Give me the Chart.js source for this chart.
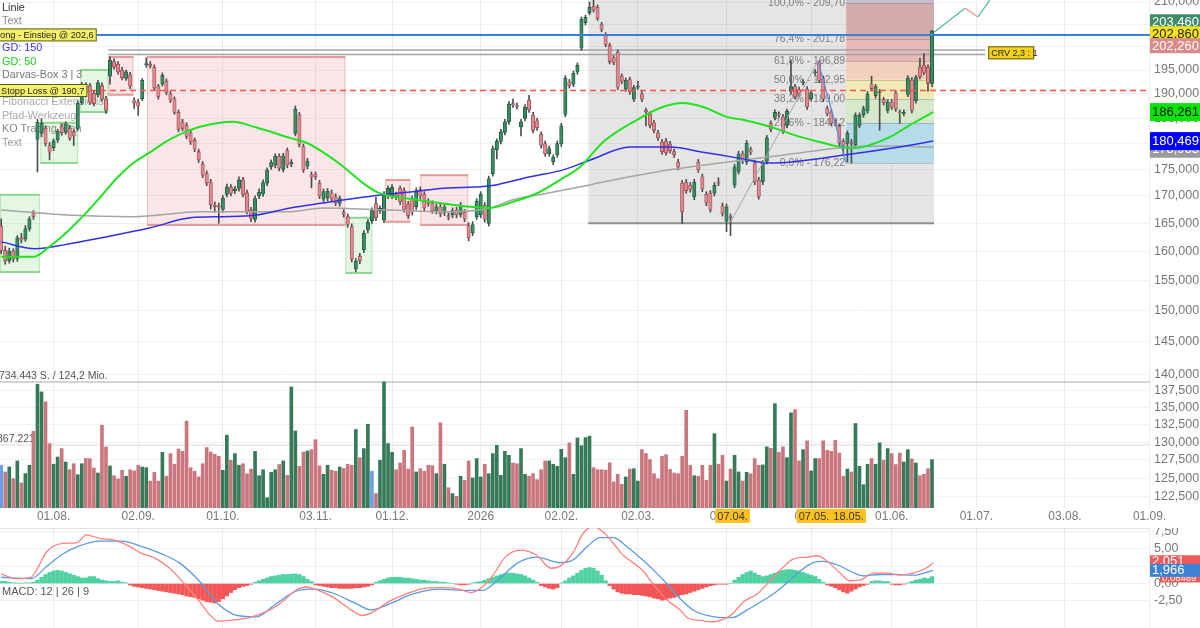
<!DOCTYPE html>
<html>
<head>
<meta charset="utf-8">
<script src="https://cdn.jsdelivr.net/npm/chart.js@4.4.1/dist/chart.umd.min.js"></script>
<style>
  html, body { margin: 0; padding: 0; background: #fff; overflow: hidden; }
  #wrap { position: relative; width: 1200px; height: 628px; }
  #main { position: absolute; left: 0; top: 0; width: 1200px; height: 528px; }
  #macd { position: absolute; left: 0; top: 528px; width: 1200px; height: 100px; }
</style>
</head>
<body>
<div id="wrap">
  <div id="main"><canvas id="priceChart"></canvas></div>
  <div id="macd"><canvas id="macdChart"></canvas></div>
</div>
<script>
// ═══ daily candles, index 0 = 15.07.2025 ═══
const opens = [
  164.5,160.2,158.4,160.1,158.8,162.4,162.2,164.0,166.8,180.8, 182.0,183.0,179.6,179.2,180.7,183.4,182.2,183.0,182.3,183.0,
  188.2,191.6,191.7,190.1,189.8,191.7,189.0,193.7,196.8,196.2, 195.0,193.2,194.0,188.6,188.3,189.0,196.1,196.2,195.6,191.5,
  192.0,192.6,190.0,189.0,186.2,184.3,183.6,182.1,180.6,178.4, 176.0,174.2,172.6,168.3,168.2,167.5,170.3,171.6,171.0,171.4,
  173.0,170.6,167.4,165.7,170.0,170.4,172.4,175.5,175.8,177.5, 175.0,178.6,176.0,182.0,185.7,179.4,175.6,174.0,174.0,172.4,
  169.4,169.6,170.6,169.9,168.6,167.0,166.2,164.4,157.0,159.2, 160.3,163.8,165.5,168.6,167.3,165.6,170.0,170.0,170.2,171.4,
  171.0,168.5,169.5,168.0,171.2,170.3,169.0,168.6,167.2,168.0, 166.9,166.4,166.5,167.4,166.6,167.0,164.6,163.3,166.2,166.5,
  168.3,165.0,174.2,178.8,180.4,182.2,184.3,188.0,187.6,183.3, 185.0,188.7,185.7,184.5,181.8,180.0,178.0,176.4,177.8,179.9,
  185.8,192.5,192.0,194.6,199.7,205.3,207.6,209.0,208.8,204.9, 202.6,200.3,197.6,198.8,193.7,191.0,193.0,188.9,191.4,190.0,
  186.6,185.8,184.1,182.1,180.3,180.5,179.9,178.4,176.4,172.4, 172.6,172.0,169.8,176.4,173.6,170.3,170.5,170.5,172.6,168.2,
  165.4,166.2,172.0,174.6,178.0,176.4,178.8,176.2,173.0,172.6, 176.5,184.0,185.2,185.8,185.3,183.6,190.5,191.5,190.9,192.3,
  191.0,189.0,194.4,196.7,193.2,187.0,186.3,184.2,183.4,180.4, 180.0,180.3,179.7,183.6,185.7,186.5,192.1,189.6,190.2,188.8,
  186.6,188.3,190.2,186.2,186.0,189.9,192.9,188.6,195.6,196.0, 195.6,192.2
];
const highs = [
  165.8,160.9,160.6,160.5,162.8,163.2,164.6,166.2,167.3,184.8, 184.9,183.5,180.2,180.9,182.8,183.9,184.3,183.6,182.7,188.6,
  192.4,192.3,192.2,190.6,192.8,192.3,189.5,197.8,197.4,196.8, 195.6,195.0,194.5,189.2,188.9,193.2,197.6,196.8,196.1,192.0,
  194.4,193.1,190.5,189.4,186.7,184.8,184.1,182.6,181.1,178.9, 176.5,174.7,173.1,168.9,168.7,170.1,172.2,172.1,171.8,173.6,
  173.5,171.1,167.9,170.0,171.3,173.0,175.3,176.8,178.0,178.0, 178.1,179.1,176.9,187.5,186.2,179.9,177.1,174.5,174.5,172.9,
  171.3,171.4,171.1,170.4,170.0,167.5,166.7,164.9,158.8,159.7, 163.7,165.7,167.8,169.8,168.2,170.8,171.9,172.1,170.7,171.9,
  171.5,169.0,170.0,171.5,171.7,170.8,169.5,169.1,168.5,168.5, 168.5,166.9,167.8,167.9,168.8,167.5,165.1,165.3,169.5,170.8,
  168.8,173.7,179.5,180.9,182.8,184.8,188.4,188.9,188.1,184.8, 187.8,189.7,186.2,185.0,182.3,180.5,179.5,177.8,180.5,184.0,
  193.8,193.0,194.8,196.5,206.6,207.0,210.0,210.5,209.3,205.4, 203.1,200.8,198.1,199.3,194.2,193.3,193.5,191.8,192.6,190.5,
  187.1,186.3,184.6,182.6,180.8,181.0,180.4,178.9,176.9,172.9, 173.1,172.5,173.1,176.9,174.1,170.8,171.0,172.5,173.4,168.7,
  168.5,166.7,176.0,178.5,178.5,180.6,179.3,176.7,173.5,176.7, 181.6,184.5,186.7,186.3,185.8,186.9,197.0,192.0,191.4,193.0,
  191.5,190.7,195.1,197.0,193.7,187.5,186.8,184.7,183.9,180.9, 182.5,180.8,186.1,186.1,187.5,190.5,193.7,192.0,190.9,189.3,
  188.8,188.8,190.7,186.7,186.7,193.8,193.4,193.9,197.5,198.5, 196.1,203.6
];
const lows = [
  159.6,157.8,158.0,158.2,158.3,161.5,161.8,163.6,165.7,174.5, 181.3,179.5,176.8,178.6,180.2,181.6,181.8,180.6,179.6,182.6,
  187.8,189.8,187.9,187.5,189.3,188.5,186.0,192.0,195.2,194.1, 192.9,192.8,191.1,187.0,185.6,188.6,195.6,195.4,190.8,188.9,
  191.6,189.8,188.2,185.8,182.3,182.5,180.9,179.8,178.4,176.3, 173.4,171.9,167.6,167.0,165.0,167.0,169.8,170.0,170.4,170.9,
  169.8,166.7,165.3,165.2,169.5,169.9,171.9,175.0,175.3,174.7, 174.5,175.3,175.5,181.5,179.3,174.4,175.1,171.5,173.1,169.5,
  168.9,169.1,168.9,168.2,168.1,166.1,164.3,158.2,156.5,157.9, 159.8,163.3,165.0,165.5,166.8,165.1,169.5,169.5,169.3,168.4,
  167.0,165.9,166.5,167.5,169.5,167.3,168.1,166.8,166.7,166.2, 166.4,165.6,166.0,166.0,166.1,165.3,161.9,162.8,165.7,166.0,
  165.2,164.5,173.7,177.0,179.9,181.7,183.8,187.2,186.9,181.5, 184.5,186.2,182.1,182.6,179.1,177.5,177.5,175.9,177.3,179.4,
  185.3,191.2,191.5,194.1,199.2,204.8,207.1,207.7,205.8,203.3, 200.0,196.3,196.1,190.9,192.1,190.5,189.9,188.4,190.9,188.4,
  183.5,183.1,182.1,180.6,177.9,177.7,178.1,177.3,174.9,165.0, 170.5,170.7,169.3,174.4,170.8,168.2,167.0,170.0,171.9,166.3,
  163.5,162.8,171.5,174.1,176.1,175.9,177.8,172.1,169.4,172.1, 176.0,182.3,184.7,185.2,182.0,183.1,190.0,188.9,189.5,191.8,
  186.8,188.5,193.9,192.3,188.4,185.5,183.5,183.5,179.6,177.6, 176.4,176.2,179.2,183.1,185.2,186.0,190.6,189.1,182.6,187.7,
  186.1,186.8,186.4,184.0,185.5,189.4,186.1,188.1,193.1,194.0, 190.5,191.5
];
const closes = [
  160.2,158.4,160.1,158.7,162.4,162.0,164.0,165.8,166.2,184.2, 184.0,180.0,178.3,180.5,182.4,182.1,183.9,181.0,181.5,188.1,
  191.8,190.1,188.3,188.0,192.3,188.9,186.6,197.1,195.6,194.6, 193.4,194.6,191.6,188.1,187.5,192.8,196.4,195.9,191.2,189.4,
  193.9,190.2,188.7,186.2,182.8,183.0,181.4,180.3,178.9,176.8, 173.9,172.4,168.4,168.0,168.0,169.6,171.7,170.5,171.3,173.0,
  170.3,167.2,165.9,169.5,170.7,172.5,174.8,176.3,177.5,175.2, 177.6,175.8,176.4,186.8,179.8,174.9,176.6,173.5,173.6,170.0,
  170.8,170.9,169.4,168.7,169.5,166.6,164.8,158.7,158.3,158.4, 163.2,165.2,167.3,166.0,167.7,170.3,171.4,171.6,169.8,168.9,
  167.5,166.4,167.0,171.0,170.0,167.8,168.6,167.3,168.0,166.7, 168.0,166.1,167.3,166.5,168.3,165.8,162.4,164.8,169.0,170.3,
  165.7,173.2,179.0,180.4,182.3,184.3,187.9,187.7,187.4,184.3, 187.3,186.7,182.6,183.1,179.6,178.0,179.0,177.3,180.0,183.5,
  193.3,191.7,194.3,196.0,206.1,206.5,208.8,208.2,206.3,203.8, 200.5,196.8,196.6,191.4,192.6,192.8,190.4,191.3,191.6,188.9,
  186.3,183.6,182.6,181.1,178.4,178.2,178.6,177.8,175.4,167.1, 171.0,171.2,172.6,174.9,171.3,168.7,167.5,172.0,172.4,166.8,
  168.0,166.0,175.5,178.0,176.6,180.1,178.3,172.6,169.9,176.2, 181.1,182.8,186.2,185.7,182.5,186.4,191.5,189.4,190.0,192.5,
  187.3,190.2,194.6,192.8,188.9,186.0,184.0,184.0,180.1,179.5, 182.0,180.0,185.6,185.6,187.0,190.0,191.1,191.5,190.4,188.2,
  188.3,187.3,186.9,186.1,186.2,193.3,186.6,193.4,193.6,194.5, 192.2,203.4
];
// volume in thousand shares
const volumes = [
  249,210,239,171,274,146,200,249,447,721, 676,618,375,255,297,346,268,223,258,194,
  258,288,288,233,204,482,356,245,188,169, 220,185,223,216,249,239,235,157,208,157,
  324,185,317,255,344,330,507,235,214,181, 258,352,326,313,301,220,424,278,317,249,
  258,200,227,330,188,223,60,208,223,253, 274,190,705,449,243,326,332,340,398,245,
  196,249,220,214,239,230,255,249,457,293, 346,488,214,84,278,735,375,324,223,262,
  336,227,472,210,229,214,249,247,200,496, 255,118,84,68,185,161,274,175,288,181,
  255,200,317,365,190,330,307,262,258,346, 196,185,200,165,223,274,274,255,243,342,
  293,379,196,408,363,410,418,235,223,
  223,220,264,152,196,138,181,227,229,157, 340,317,282,200,171,301,311,225,204,200,
  301,569,249,188,185,249,161,249,433,255, 307,157,227,307,210,157,208,200,288,249,
  251,356,348,608,324,356,293,554,573,274, 340,391,216,288,288,391,336,330,394,320,
  185,227,210,492,243,136,255,288,255,379, 278,346,317,253,320,268,340,286,262,188,
  196,229,282
];
const volBlue = [0, 92];

// moving averages, read at sample days
const ma50Idx = [0,8,12.2,16.4,20.3,24.6,28.8,32.8,37,41.2,45.2,49.4,57.6,63.5,71.7,75.9,81.6,84.9,89.8,93.3,96.5,102.2,110.7,116.4,121.3,127,133,138.7,143.7,149.4,157.8,163.5,169.2,174.2,180.1,184.1,190.8,198.3,203.2,208.2,211.9,215.6,220.6,225.6,231.3];
const ma50Val = [159.1,159.1,161.0,163.5,166.3,169.8,173.4,176.2,178.3,180.5,182.1,183.3,184.3,183.1,181.1,180.1,177.4,175.5,172.4,170.7,170.0,169.4,168.5,168.0,167.8,168.9,170.5,173.0,175.5,180.3,184.7,187.1,188.1,187.3,185.3,184.7,183.3,181.3,180.3,179.3,179.1,179.7,181.3,183.7,186.26];
const ma150Idx = [0,8.4,16.4,24.6,37,46.9,55.1,63.5,71.7,79.9,88.3,94.8,102.2,110.7,118.9,123.1,131.3,139.5,146.2,156.1,166,174.2,182.6,190.8,209.7,221.3,231.3];
const ma150Val = [161.7,160.5,161.3,162.4,164.2,166.0,166.2,166.5,167.8,168.7,169.6,170.2,170.8,171.5,171.7,172.1,173.6,174.9,176.8,179.3,179.3,178.3,177.2,176.2,177.8,179.1,180.47];
const ma200Idx = [0,16.4,32.8,49.4,71.7,79.9,96.5,110.7,121.3,127,135.5,143.7,149.4,166,178.4,190.8,203.2,210.7,221.3,231.3];
const ma200Val = [167.4,166.5,166.2,167.1,167.1,167.8,167.4,167.1,167.8,169.3,170.5,171.7,172.6,174.9,176.2,177.4,178.7,179.3,179.5,179.3];

// MACD 12 | 26 | 9
const macdIdx = [0,3.5,7.4,9.2,11.2,14.9,18.9,21.1,24.4,28.3,32,35,37.7,41.4,45.4,49.1,51.6,53.8,56.8,61.5,66.3,70,73,75.7,78.7,82.4,87.1,89.6,92.8,96.5,100.5,104.2,108.9,113.6,116.6,119.4,122.3,125.1,128.8,132.8,136.5,138.7,141.9,144.4,146.9,149.4,151.9,154.3,156.8,159.3,161.8,165.3,168.5,170.5,173.4,176.7,180.1,181.6,184.1,187.6,190.8,194,196.5,200,202.5,205,208.2,210.7,213.2,216.4,219.9,223.1,226.3,229.8,231.3];
const macdVal = [1.4,0.7,0.9,2.4,4.5,5.75,5.9,7.0,6.5,6.2,5.3,4.3,3.8,2.4,0,-2.5,-4.4,-5.4,-5.3,-4.9,-3.9,-2.5,-1.0,-0.5,-1.0,-2.0,-3.9,-4.6,-3.9,-2.5,-1.5,-0.8,-0.6,-0.8,-1.3,-0.5,1.4,3.8,4.8,4.1,2.2,2.5,4.4,7.2,8.2,7.4,5.8,4.1,3.0,1.8,-0.1,-2.4,-3.8,-5.0,-5.3,-5.5,-4.9,-4.3,-2.7,-1.5,0.4,2.3,3.5,3.8,4.0,3.2,1.5,0.4,0.5,1.5,1.5,1.2,1.5,2.3,3.0];
const signalIdx = [0,7.4,11.2,14.9,18.9,24.4,30,34,39.7,44.4,49.1,53.8,58.6,63.3,68.2,73.7,77.7,82.4,88.1,91.8,96.5,102.2,108.9,115.6,119.4,123.1,128,132.8,138.7,141.9,145.4,148.6,151.9,155.3,158.6,161.8,165.3,168.5,171.7,175.2,178.4,181.4,185.1,188.3,191.6,195,198.3,201.5,204,207.4,210.7,213.9,218.1,222.3,226.3,231.3];
const signalVal = [0.9,0.7,2.4,4.1,5.3,6.1,6.1,5.5,4.3,2.9,0.4,-2.9,-4.6,-4.8,-2.9,-1.0,-0.8,-1.4,-2.9,-3.8,-2.9,-1.5,-0.8,-1.0,-1.0,0.4,2.9,3.8,3.0,3.4,5.3,6.6,6.6,5.3,3.7,2.0,-0.1,-2.2,-3.8,-4.6,-4.9,-4.9,-3.8,-2.7,-1.5,0.1,1.8,3.0,3.2,2.7,1.8,1.1,1.3,1.3,1.2,1.9];
const histVal = [
  0.3,0.3,0.2,0.1,0.1,0.0,0.1,0.1,0.2,
  0.5,0.9,1.3,1.6,1.8,1.9,1.8,1.6,1.4,1.2,
  1.0,0.8,0.8,1.0,1.0, 0.7,0.5,0.4,0.3,0.3,0.4, 0.2,0.1,
  -0.2,-0.4,-0.5,-0.6,-0.7,-0.8,-0.9,-1.0,-1.1,-1.2,-1.3,-1.4,-1.5,-1.6,-1.8,-1.9,-2.0,-2.2,-2.4,-2.6,-2.7,-2.8,-2.6,-2.2,-1.8,-1.3,-0.9,-0.6,-0.4,-0.3,-0.1,
  0.2,0.4,0.6,0.8,1.0,1.1,1.2,1.3,1.3,1.35,1.4,1.3,1.0,0.6,0.3,
  -0.2,-0.3,-0.4,-0.5,-0.6,-0.6,-0.7,-0.7,-0.7,-0.7,-0.6,-0.6,-0.5,-0.4,-0.2,
  0.2,0.4,0.6,0.8,0.9,0.9,0.9,0.8,0.8,0.7,0.6,0.5,0.5,0.4,0.3,0.3,0.2,0.2,0.1,
  0.0,-0.1,-0.2,-0.2,-0.1,0.1,
  0.2,0.3,0.5,0.7,0.9,1.1,1.3,1.4,1.5,1.5,1.4,1.3,1.1,0.8,0.5,0.2,
  -0.3,-0.5,-0.7,-0.8,-0.6,
  0.1,0.4,0.8,1.1,1.5,1.9,2.2,2.3,2.2,1.8,1.2,0.4,
  -0.3,-0.8,-1.2,-1.4,-1.5,-1.5,-1.6,-1.6,-1.7,-1.8,-1.9,-2.1,-2.2,-2.4,-2.3,-2.1,-2.0,-1.8,-1.6,-1.5,-1.3,-1.1,-0.9,-0.7,-0.5,-0.3,-0.2,-0.1,-0.1,-0.1,0.0,
  0.5,0.9,1.3,1.6,1.8,1.5,1.2,1.0,1.1,1.3,1.5,1.7,1.9,2.0,2.0,1.9,1.8,1.6,1.4,1.2,1.0,0.6,0.2,
  -0.2,-0.4,-0.6,-0.9,-1.2,-1.4,-1.1,-0.8,-0.5,-0.3,-0.1,
  0.3,0.4,0.4,0.3,0.3, -0.1,-0.2,-0.2,-0.1,
  0.1,0.3,0.5,0.6,0.8,0.7,1.0
];

// axes
const tickIdx = [13,34,55,78,97,119,139,158,180,201,221,242,264,285];
const tickLabels = ['01.08.','02.09.','01.10.','03.11.','01.12.','2026','02.02.','02.03.','01.04.','01.05.','01.06.','01.07.','03.08.','01.09.'];
const markIdx = [183,204,211];
const markLabels = ['07.04.','07.05.','18.05.'];
const priceTicks = [122.5,125,127.5,130,132.5,135,137.5,140,145,150,155,160,165,170,175,180,185,190,195,200,205,210];
const macdTicks = [7.5,5,2.5,0,-2.5];

// drawings
const longEntry = 202.6, stopLoss = 190.7;
const crvLines = [199.3, 198.3], crvFrom = 26.6, crvTo = 244.2;
const darvasBoxes = [ // [fromIdx, toIdx, top, bottom, up?]
  [-0.3,9.6,170.2,156.5,1],[9.7,19.1,184.1,176.2,1],[19.6,26.6,195.0,186.3,1],[26.6,32.8,197.8,189.8,0],
  [36.2,85.4,197.8,164.7,0],[85.4,92.1,166.0,156.3,1],[95.3,101.5,173.0,165.3,0],[104,115.9,173.9,164.7,0]
];
const fibBox = [145.7, 231.5, 165.0];
const fibZone = [209.7, 231.5];
const fibLevels = [209.70,201.78,196.89,192.95,189.00,184.12,176.22];
const fibNames = ['100,0% - 209,70','76,4% - 201,78','61,8% - 196,89','50,0% - 192,95','38,2% - 189,00','23,6% - 184,12','0,0% - 176,22'];
const fibUpIdx = [181, 202.7], fibUpVal = [165.2, 196.89];
const fibDownIdx = [202.7, 209.7], fibDownVal = [196.89, 176.22];
const pathIdx = [231.5, 239.2, 242.4, 248], pathVal = [203.2, 208.6, 206.6, 214];
const lastPrices = [203.46, 202.86, 202.26];
const maLast = [178.965, 186.261, 180.469];
const macdLast = [2.051, 1.966, 0.08489];
const volMax = 734.443, volTotal = '124,2 Mio.';
const legendItems = [['Linie','#333'],['Text','#8a8a8a'],['GD: 200','#999'],['GD: 150','#3434f0'],['GD: 50','#17d417'],
  ['Darvas-Box 3 | 3','#777'],['Wertebereich','#999'],['Fibonacci Extensions','#ababab'],['Pfad-Werkzeug','#ababab'],['KO Trading Plan','#888'],['Text','#999']];

const FONT = '"Liberation Sans", Arial, sans-serif';
const fmt = (v, d) => v.toFixed(d).replace('.', ',');
const X_MIN = -0.3, X_MAX = 285.1;
const isUp = closes.map((c, i) => c >= opens[i]);
const pts = (xs, ys) => xs.map((v, k) => ({ x: v, y: ys[k] }));

function lineSet(xs, ys, color, width, order, axis) {
    return { type: 'line', data: pts(xs, ys), borderColor: color, borderWidth: width, pointRadius: 0,
        cubicInterpolationMode: 'monotone', order: order, yAxisID: axis || 'y' };
}

function spread(items, h) {
    for (let it = 0; it < 60; it++) {
        for (let k = 1; k < items.length; k++) {
            const d = items[k].y - items[k - 1].y;
            if (d < h) { const s = (h - d) / 2; items[k].y += s; items[k - 1].y -= s; }
        }
    }
    return items;
}

function tag(ctx, text, yc, bg, fg, size, h, x0) {
    const left = x0 || 1150;
    ctx.fillStyle = bg;
    ctx.fillRect(left, yc - h / 2, 1200 - left, h);
    ctx.fillStyle = fg;
    ctx.font = size + 'px ' + FONT;
    ctx.textAlign = 'left';
    ctx.textBaseline = 'middle';
    ctx.fillText(text, left + 2, yc + 0.5);
}

// keep the plot area flush with the canvas edges
function noPad(s) { s.paddingTop = 0; s.paddingBottom = 0; s.paddingLeft = 0; s.paddingRight = 0; }

const xScaleBase = {
    type: 'linear', min: X_MIN, max: X_MAX, offset: false,
    afterBuildTicks: s => { s.ticks = tickIdx.map(v => ({ value: v })); },
    grid: { color: '#ececec', drawTicks: false, offset: false },
    border: { display: false }
};

const mainDeco = {
    id: 'mainDeco',
    beforeDatasetsDraw(chart) {
        const { ctx, chartArea: a, scales: { x, y, yv } } = chart;
        ctx.save();
        ctx.beginPath(); ctx.rect(a.left, a.top, a.right - a.left, a.bottom - a.top); ctx.clip();

        // fibonacci background
        const fx0 = x.getPixelForValue(fibBox[0]), fx1 = x.getPixelForValue(fibBox[1]);
        const fyb = y.getPixelForValue(fibBox[2]);
        ctx.fillStyle = 'rgba(0,0,0,0.1)';
        ctx.fillRect(fx0, a.top, fx1 - fx0, fyb - a.top);
        ctx.strokeStyle = '#8f8f8f'; ctx.lineWidth = 2;
        ctx.beginPath(); ctx.moveTo(fx0, fyb); ctx.lineTo(fx1, fyb); ctx.stroke();

        const zx0 = x.getPixelForValue(fibZone[0]), zx1 = x.getPixelForValue(fibZone[1]);
        const zoneColors = ['#c8bccd','#d3abab','#e7b8b8','#f1d1bd','#f3ebb5','#d6e9ca','#b8dbe9'];
        let prev = a.top;
        fibLevels.forEach((lv, k) => {
            const yy = y.getPixelForValue(lv);
            ctx.fillStyle = zoneColors[k];
            ctx.fillRect(zx0, prev, zx1 - zx0, yy - prev);
            prev = yy;
        });
        ctx.strokeStyle = 'rgba(0,0,0,0.18)'; ctx.lineWidth = 1;
        fibLevels.forEach(lv => {
            const yy = Math.round(y.getPixelForValue(lv)) + 0.5;
            ctx.beginPath(); ctx.moveTo(zx0, yy); ctx.lineTo(zx1, yy); ctx.stroke();
        });
        ctx.font = '10.5px ' + FONT; ctx.fillStyle = '#7d7d7d';
        ctx.textAlign = 'right'; ctx.textBaseline = 'middle';
        fibLevels.forEach((lv, k) => ctx.fillText(fibNames[k], zx0 - 1, y.getPixelForValue(lv)));

        // darvas boxes
        darvasBoxes.forEach(b => {
            const bx0 = x.getPixelForValue(b[0]), bx1 = x.getPixelForValue(b[1]);
            const by0 = y.getPixelForValue(b[2]), by1 = y.getPixelForValue(b[3]);
            ctx.fillStyle = b[4] ? 'rgba(140,222,140,0.24)' : 'rgba(232,130,130,0.2)';
            ctx.fillRect(bx0, by0, bx1 - bx0, by1 - by0);
            ctx.strokeStyle = b[4] ? 'rgba(120,210,120,0.45)' : 'rgba(225,120,120,0.4)';
            ctx.lineWidth = 1;
            ctx.strokeRect(bx0 + 0.5, by0, bx1 - bx0 - 1, by1 - by0);
            ctx.strokeStyle = b[4] ? '#8fd88f' : '#e39c9c';
            ctx.lineWidth = 2;
            ctx.beginPath(); ctx.moveTo(bx0, by0); ctx.lineTo(bx1, by0); ctx.moveTo(bx0, by1); ctx.lineTo(bx1, by1); ctx.stroke();
        });

        // CRV zone lines
        ctx.strokeStyle = '#a3a3a3'; ctx.lineWidth = 1.5;
        const cx0 = x.getPixelForValue(crvFrom), cx1 = x.getPixelForValue(crvTo);
        crvLines.forEach(p => {
            const yy = y.getPixelForValue(p);
            ctx.beginPath(); ctx.moveTo(cx0, yy); ctx.lineTo(cx1, yy); ctx.stroke();
        });

        // volume levels
        const v1 = yv.getPixelForValue(volMax), v2 = yv.getPixelForValue(volMax / 2);
        ctx.strokeStyle = '#d4d4d4'; ctx.lineWidth = 2;
        ctx.beginPath(); ctx.moveTo(a.left, v1); ctx.lineTo(a.right, v1); ctx.stroke();
        ctx.strokeStyle = '#e6e6e6'; ctx.lineWidth = 1.5;
        ctx.beginPath(); ctx.moveTo(a.left, v2); ctx.lineTo(a.right, v2); ctx.stroke();
        ctx.font = '10.5px ' + FONT; ctx.fillStyle = '#555'; ctx.textAlign = 'left'; ctx.textBaseline = 'alphabetic';
        ctx.fillText(fmt(volMax, 3).replace(',', '.') + ' S. / ' + volTotal, -1, v1 - 3);
        ctx.fillText(fmt(volMax / 2, 3).replace(',', '.'), -3, v2 - 3);

        // legend of the drawing tools
        ctx.font = '10.8px ' + FONT; ctx.textBaseline = 'middle';
        legendItems.forEach((it, k) => { ctx.fillStyle = it[1]; ctx.fillText(it[0], 2, 8 + k * 13.5); });
        ctx.restore();
    },
    afterDatasetsDraw(chart) {
        const { ctx, chartArea: a, scales: { x, y } } = chart;
        ctx.save();
        ctx.beginPath(); ctx.rect(a.left, a.top, a.right - a.left, a.bottom - a.top); ctx.clip();
        const yl = y.getPixelForValue(longEntry);
        ctx.strokeStyle = '#3d7fd6'; ctx.lineWidth = 2;
        ctx.beginPath(); ctx.moveTo(a.left, yl); ctx.lineTo(a.right, yl); ctx.stroke();
        const ys = y.getPixelForValue(stopLoss);
        ctx.strokeStyle = '#ff4f4f'; ctx.lineWidth = 1.5; ctx.setLineDash([6, 4]);
        ctx.beginPath(); ctx.moveTo(a.left, ys); ctx.lineTo(a.right, ys); ctx.stroke();
        ctx.setLineDash([]);

        ctx.font = '9.2px ' + FONT; ctx.textBaseline = 'middle'; ctx.textAlign = 'left';
        const yLabel = (text, x0, yc) => {
            const w = ctx.measureText(text).width + 5;
            ctx.fillStyle = '#f5f06a'; ctx.fillRect(x0, yc - 6.5, w, 13);
            ctx.strokeStyle = '#5a5a20'; ctx.lineWidth = 1; ctx.strokeRect(x0 + 0.5, yc - 6, w - 1, 12);
            ctx.fillStyle = '#222'; ctx.fillText(text, x0 + 2, yc + 0.5);
        };
        yLabel('Long - Einstieg @ ' + fmt(longEntry, 1), -7, yl);
        yLabel('Stopp Loss @ ' + fmt(stopLoss, 1), -1, ys);

        // CRV tag
        const cx = x.getPixelForValue(crvTo);
        const cy = (y.getPixelForValue(crvLines[0]) + y.getPixelForValue(crvLines[1])) / 2;
        ctx.fillStyle = '#f3d21c'; ctx.fillRect(cx + 3, cy - 6, 46, 13);
        ctx.strokeStyle = '#6a5a10'; ctx.strokeRect(cx + 3.5, cy - 5.5, 45, 12);
        ctx.fillStyle = '#222'; ctx.font = '9px ' + FONT;
        ctx.fillText('CRV 2,3 : 1', cx + 6, cy + 1);
        ctx.restore();
    },
    afterDraw(chart) {
        const { ctx, chartArea: a, scales: { x, y } } = chart;
        ctx.save();
        // price tags
        const tops = spread(lastPrices.map((p, k) => ({ y: y.getPixelForValue(p), k: k })), 12);
        const topColors = [['#3e8c68', '#fff'], ['#f4e21a', '#222'], ['#d98a8a', '#fff']];
        tops.forEach(t => tag(ctx, fmt(lastPrices[t.k], 3), t.y, topColors[t.k][0], topColors[t.k][1], 13, 15));
        const maColors = [['#9b9b9b', '#fff'], ['#00e400', '#111'], ['#0000ff', '#fff']];
        maLast.forEach((p, k) => tag(ctx, fmt(p, 3), y.getPixelForValue(p), maColors[k][0], maColors[k][1], 13, 18));

        // highlighted dates on the time axis, neighbours share one box
        ctx.font = '11px ' + FONT; ctx.textBaseline = 'middle'; ctx.textAlign = 'center';
        const ly = a.bottom + 8;
        const marks = markIdx.map((m, k) => {
            const w = ctx.measureText(markLabels[k]).width;
            return { c: x.getPixelForValue(m) - 6, w: w, t: markLabels[k] };
        });
        for (let k = 1; k < marks.length; k++) {
            const gap = marks[k].c - marks[k - 1].c, need = (marks[k].w + marks[k - 1].w) / 2 + 4;
            if (gap < need) { marks[k - 1].c -= (need - gap) / 2; marks[k].c += (need - gap) / 2; }
        }
        let k0 = 0;
        while (k0 < marks.length) {
            let k1 = k0;
            while (k1 + 1 < marks.length && marks[k1 + 1].c - marks[k1].c < 45) k1++;
            const left = marks[k0].c - marks[k0].w / 2 - 2, right = marks[k1].c + marks[k1].w / 2 + 2;
            ctx.fillStyle = '#ffc21a'; ctx.fillRect(left, ly - 7, right - left, 14);
            k0 = k1 + 1;
        }
        ctx.fillStyle = '#333';
        marks.forEach(m => ctx.fillText(m.t, m.c, ly + 0.5));
        ctx.restore();
    }
};

new Chart(document.getElementById('priceChart'), {
    type: 'bar',
    data: {
        datasets: [
            Object.assign(lineSet(pathIdx, pathVal, '#5cb99a', 1.3, 1), {
                cubicInterpolationMode: 'default', tension: 0,
                segment: { borderColor: c => c.p1.parsed.y < c.p0.parsed.y ? '#f29a9a' : '#5cb99a' }
            }),
            Object.assign(lineSet(fibUpIdx, fibUpVal, '#a5a5a5', 1, 2), { cubicInterpolationMode: 'default' }),
            Object.assign(lineSet(fibDownIdx, fibDownVal, '#5b8fd8', 1.3, 2), { cubicInterpolationMode: 'default' }),
            lineSet(ma50Idx, ma50Val, '#22e322', 2, 3),
            lineSet(ma150Idx, ma150Val, '#2f2ff0', 1.5, 4),
            lineSet(ma200Idx, ma200Val, '#a5a5a5', 1.5, 5),
            {
                type: 'bar', order: 10, grouped: false, barThickness: 3.4, minBarLength: 1,
                data: closes.map((c, i) => ({ x: i, y: [Math.min(opens[i], c), Math.max(opens[i], c)] })),
                backgroundColor: isUp.map(u => u ? '#3a8a62' : '#de8a90'),
                borderColor: isUp.map(u => u ? '#1f5a3e' : '#9e4b53'),
                borderWidth: 0.8, borderSkipped: false, yAxisID: 'y'
            },
            {
                type: 'bar', order: 11, grouped: false, barThickness: 1,
                data: closes.map((c, i) => ({ x: i, y: [lows[i], highs[i]] })),
                backgroundColor: '#4d4d4d', yAxisID: 'y'
            },
            {
                type: 'bar', order: 20, grouped: false, barThickness: 3,
                data: volumes.map((v, i) => ({ x: i, y: v })),
                backgroundColor: volumes.map((v, i) => volBlue.includes(i) ? '#6d9ee6' : (isUp[i] ? '#367a59' : '#c9767e')),
                yAxisID: 'yv'
            }
        ]
    },
    options: {
        responsive: true, maintainAspectRatio: false, animation: false, devicePixelRatio: 1,
        events: [],
        layout: { padding: 0, autoPadding: false },
        plugins: { legend: { display: false }, tooltip: { enabled: false } },
        scales: {
            x: Object.assign({}, xScaleBase, {
                position: 'bottom',
                ticks: { autoSkip: false, maxRotation: 0, padding: 1, color: '#777', font: { family: FONT, size: 12 },
                    callback: v => { const k = tickIdx.indexOf(v); return k < 0 ? '' : tickLabels[k]; } },
                afterFit: s => { s.height = 20; noPad(s); }
            }),
            y: {
                type: 'logarithmic', position: 'right', min: 121.0, max: 210.46,
                afterBuildTicks: s => { s.ticks = priceTicks.map(v => ({ value: v })); },
                ticks: { autoSkip: false, padding: 4, color: '#777', font: { family: FONT, size: 12.5 }, callback: v => fmt(v, 3) },
                grid: { color: '#f0f0f0', drawTicks: false },
                border: { display: false },
                afterFit: s => { s.width = 50; noPad(s); }
            },
            yv: { type: 'linear', display: false, min: 0, max: 2959 }
        }
    },
    plugins: [mainDeco]
});

const macdDeco = {
    id: 'macdDeco',
    beforeDatasetsDraw(chart) {
        const { ctx, chartArea: a } = chart;
        ctx.save();
        ctx.strokeStyle = '#e2e2e2'; ctx.lineWidth = 1;
        ctx.beginPath(); ctx.moveTo(0, 0.5); ctx.lineTo(a.right, 0.5); ctx.stroke();
        ctx.restore();
    },
    afterDraw(chart) {
        const { ctx, scales: { y } } = chart;
        ctx.save();
        ctx.font = '11px ' + FONT; ctx.fillStyle = '#555'; ctx.textAlign = 'left'; ctx.textBaseline = 'middle';
        ctx.fillText('MACD: 12 | 26 | 9', 2, 64);
        // last values: MACD tag pushed up, histogram tag tucked under the signal tag
        tag(ctx, fmt(macdLast[0], 3), y.getPixelForValue(macdLast[0]) - 8, '#f25a5a', '#fff', 13, 12);
        tag(ctx, fmt(macdLast[2], 5), y.getPixelForValue(macdLast[2]) - 5.5, '#f25a5a', '#fff', 9.5, 10, 1160);
        tag(ctx, fmt(macdLast[1], 3), y.getPixelForValue(macdLast[1]) + 0.5, '#3f82d4', '#fff', 13, 13);
        ctx.restore();
    }
};

new Chart(document.getElementById('macdChart'), {
    type: 'bar',
    data: {
        datasets: [
            lineSet(macdIdx, macdVal, '#ff8080', 1.3, 1),
            lineSet(signalIdx, signalVal, '#5b9be0', 1.3, 2),
            {
                type: 'bar', order: 10, grouped: false, barThickness: 3.6,
                data: histVal.map((v, i) => ({ x: i, y: v })),
                backgroundColor: histVal.map(v => v >= 0 ? '#4fd1a1' : '#f25656'),
                yAxisID: 'y'
            }
        ]
    },
    options: {
        responsive: true, maintainAspectRatio: false, animation: false, devicePixelRatio: 1,
        events: [],
        layout: { padding: 0, autoPadding: false },
        plugins: { legend: { display: false }, tooltip: { enabled: false } },
        scales: {
            x: Object.assign({}, xScaleBase, { ticks: { display: false }, afterFit: s => { s.height = 0; noPad(s); } }),
            y: {
                type: 'linear', position: 'right', min: -6.4, max: 7.99,
                afterBuildTicks: s => { s.ticks = macdTicks.map(v => ({ value: v })); },
                ticks: { autoSkip: false, padding: 4, color: '#777', font: { family: FONT, size: 12.5 }, callback: v => fmt(v, 2) },
                grid: { color: '#efefef', drawTicks: false },
                border: { display: false },
                afterFit: s => { s.width = 50; noPad(s); }
            }
        }
    },
    plugins: [macdDeco]
});
</script>
</body>
</html>
